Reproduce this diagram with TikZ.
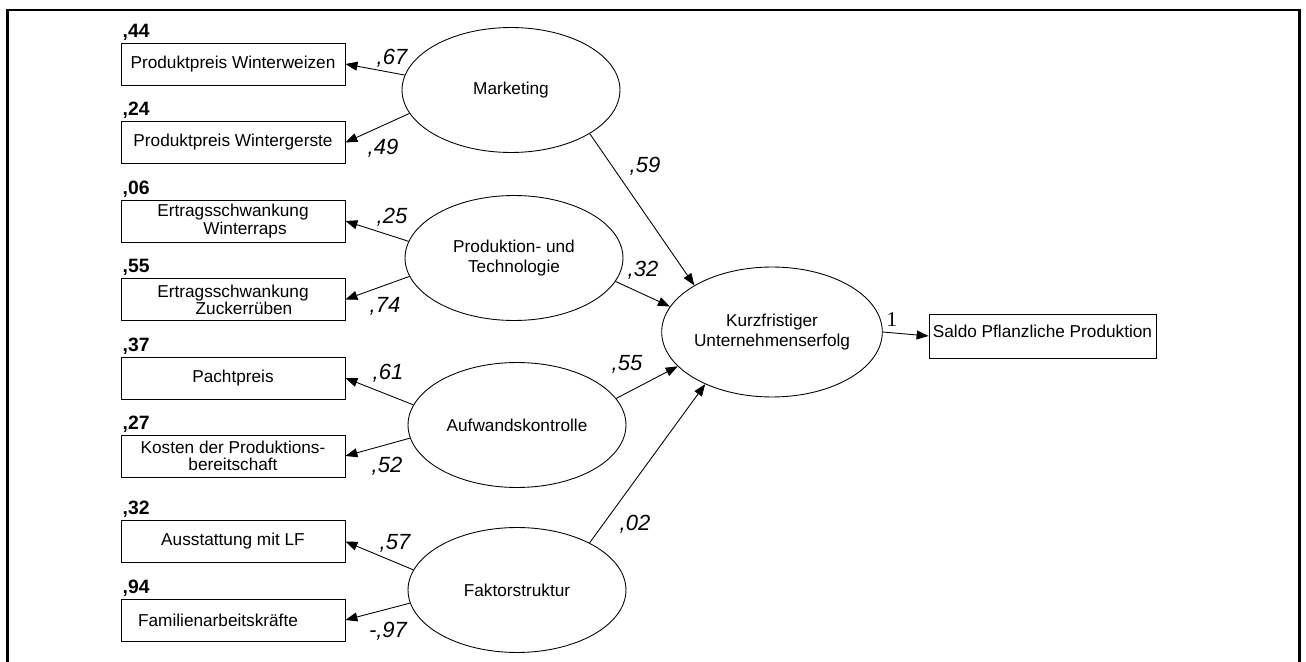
\documentclass[tikz,border=0pt]{standalone}
\usepackage{fontspec}
\setmainfont{Liberation Sans}
\newfontfamily\onefont{Liberation Serif}
\usetikzlibrary{shapes.geometric,arrows.meta}
\tikzset{
  ind/.style={draw,line width=0.5pt,minimum width=4.48cm,minimum height=0.84cm,inner sep=1pt,
    align=center,font=\fontsize{9.8}{9.8}\selectfont},
  lat/.style={draw,ellipse,line width=0.5pt,minimum width=4.36cm,minimum height=2.5cm,inner sep=0pt,
    align=center,font=\fontsize{9.8}{11.6}\selectfont},
  pth/.style={-{Triangle[length=0.24cm,width=0.18cm]},line width=0.5pt},
  coef/.style={inner sep=0pt,font=\fontsize{12.5}{14}\selectfont\itshape},
  rsq/.style={anchor=south west,inner sep=1pt,font=\fontsize{11}{12}\selectfont\bfseries}
}
\begin{document}
\begin{tikzpicture}[x=0.02cm,y=-0.02cm]
\useasboundingbox (0,0) rectangle (1306,662);
\draw[line width=1.7pt] (7.5,662) -- (7.5,10) -- (1299,10) -- (1299,662);

% manifest variables
\node[ind] (b1) at (233,64)    {Produktpreis Winterweizen};
\node[ind] (b2) at (233,142.5) {Produktpreis Wintergerste};
\node[ind] (b3) at (233,221)   {Ertragsschwankung\\\hspace*{0.48cm}Winterraps};
\node[ind] (b4) at (233,299.5) {Ertragsschwankung\\\hspace*{0.44cm}Zuckerr\"uben};
\node[ind] (b5) at (233,378)   {Pachtpreis};
\node[ind] (b6) at (233,456)   {Kosten der Produktions-\\bereitschaft};
\node[ind] (b7) at (233,541.5) {Ausstattung mit LF};
\node[ind] (b8) at (233,620)   {Familienarbeitskr\"afte\hspace*{0.6cm}};
\node[ind,minimum width=4.54cm,minimum height=0.88cm,inner sep=0pt] (saldo) at (1042.5,336)
  {\raisebox{0.2cm}{Saldo Pflanzliche Produktion}};

\node[rsq] (r1) at (b1.north west) {,44};
\node[rsq] (r2) at (b2.north west) {,24};
\node[rsq] (r3) at (b3.north west) {,06};
\node[rsq] (r4) at (b4.north west) {,55};
\node[rsq] (r5) at (b5.north west) {,37};
\node[rsq] (r6) at (b6.north west) {,27};
\node[rsq] (r7) at (b7.north west) {,32};
\node[rsq] (r8) at (b8.north west) {,94};

% latent variables
\node[lat] (mkt)  at (511,90)  {Marketing};
\node[lat] (prod) at (514,258) {Produktion- und\\Technologie};
\node[lat] (aufw) at (517,425) {Aufwandskontrolle};
\node[lat] (fakt) at (517,590) {Faktorstruktur};
\node[lat,minimum width=4.36cm,minimum height=2.6cm] (kue) at (772,332)
  {Kurzfristiger\\Unternehmenserfolg};

\draw[pth] (mkt.172)  -- (b1.east);
\draw[pth] (mkt.193)  -- (b2.east);
\draw[pth] (prod.171) -- (b3.east);
\draw[pth] (prod.190) -- (b4.east);
\draw[pth] (aufw.169) -- (b5.east);
\draw[pth] (aufw.187) -- (b6.east);
\draw[pth] (fakt.169) -- (b7.east);
\draw[pth] (fakt.187) -- (b8.east);
\draw[pth] (mkt.331)  -- (kue.149);
\draw[pth] (prod.347) -- (kue.166);
\draw[pth] (aufw.15)  -- (kue.200);
\draw[pth] (fakt.33)  -- (kue.218);
\draw[pth] (kue.east) -- (saldo.west);

\node[coef] (c67) at (392,58)  {,67};
\node[coef] (c49) at (383,148) {,49};
\node[coef] (c25) at (392,217) {,25};
\node[coef] (c74) at (385,306) {,74};
\node[coef] (c61) at (388,373) {,61};
\node[coef] (c52) at (387,466) {,52};
\node[coef] (c57) at (395,543) {,57};
\node[coef] (c97) at (388,631) {-,97};
\node[coef] (c59) at (645,166) {,59};
\node[coef] (c32) at (643,270) {,32};
\node[coef] (c55) at (627,364) {,55};
\node[coef] (c02) at (635,524) {,02};
\node[inner sep=0pt,font=\fontsize{12}{14}\onefont] (one) at (892,320) {1};
\end{tikzpicture}
\end{document}
